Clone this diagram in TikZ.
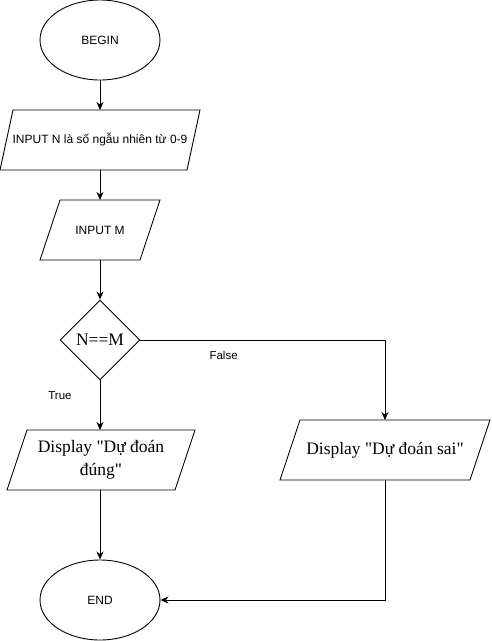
\documentclass[tikz,border=0pt]{standalone}
\usepackage{fontspec}
\setmainfont{Liberation Serif}
\setsansfont{Liberation Sans}
\newfontfamily\dispfont{Liberation Serif}
\usetikzlibrary{shapes.geometric, arrows.meta}
\tikzset{>={Stealth[length=8pt, width=7pt]}}
\tikzset{
  term/.style={draw, ellipse, minimum width=120pt, minimum height=80pt, font=\sffamily\fontsize{12}{14}\selectfont},
  io/.style={minimum height=60pt, inner sep=1pt, outer sep=0pt},
  decide/.style={draw, diamond, minimum width=80pt, minimum height=80pt, inner sep=0pt, font=\dispfont\fontsize{17.5}{20}\selectfont},
  small/.style={font=\sffamily\fontsize{12}{14}\selectfont},
  big/.style={font=\dispfont\fontsize{17.5}{23}\selectfont},
  lbl/.style={font=\sffamily\fontsize{11.5}{13}\selectfont}
}
% parallelogram around a node: name, half slant
\newcommand\slantbox[2]{\draw ([xshift=-#2]#1.south west) -- ([xshift=-#2]#1.south east) -- ([xshift=#2]#1.north east) -- ([xshift=#2]#1.north west) -- cycle;}

\begin{document}
\begin{tikzpicture}[x=1pt, y=-1pt, line width=0.9pt]
\useasboundingbox (0,0) rectangle (491,641);
\node[term] (begin) at (100,40) {BEGIN};
\node[io, small, minimum width=187pt] (inN) at (100,140) {INPUT N là số ngẫu nhiên từ 0-9};
\node[io, small, minimum width=100pt] (inM) at (100,230) {INPUT M};
\node[decide] (check) at (100,340) {N==M};
\node[io, big, minimum width=168pt, align=center] (right) at (101,460) {Display "Dự đoán\\đúng"};
\node[io, big, minimum width=190pt] (wrong) at (385,450) {Display "Dự đoán sai"};
\node[term] (end) at (100,600) {END};
\slantbox{inN}{6.5pt}
\slantbox{inM}{10pt}
\slantbox{right}{10pt}
\slantbox{wrong}{10pt}
\draw[->] (begin) -- (inN);
\draw[->] (inN) -- (inM);
\draw[->] (inM) -- (check);
\draw[->] (check) -- (check.south |- right.north) node[lbl, pos=0.3, xshift=-40pt] {True};
\draw[->] (check.east) -| (wrong.north) node[lbl, pos=0.17, yshift=-15pt] {False};
\draw[->] (check.south |- right.south) -- (end);
\draw[->] (wrong.south) |- (end.east);
\end{tikzpicture}
\end{document}
